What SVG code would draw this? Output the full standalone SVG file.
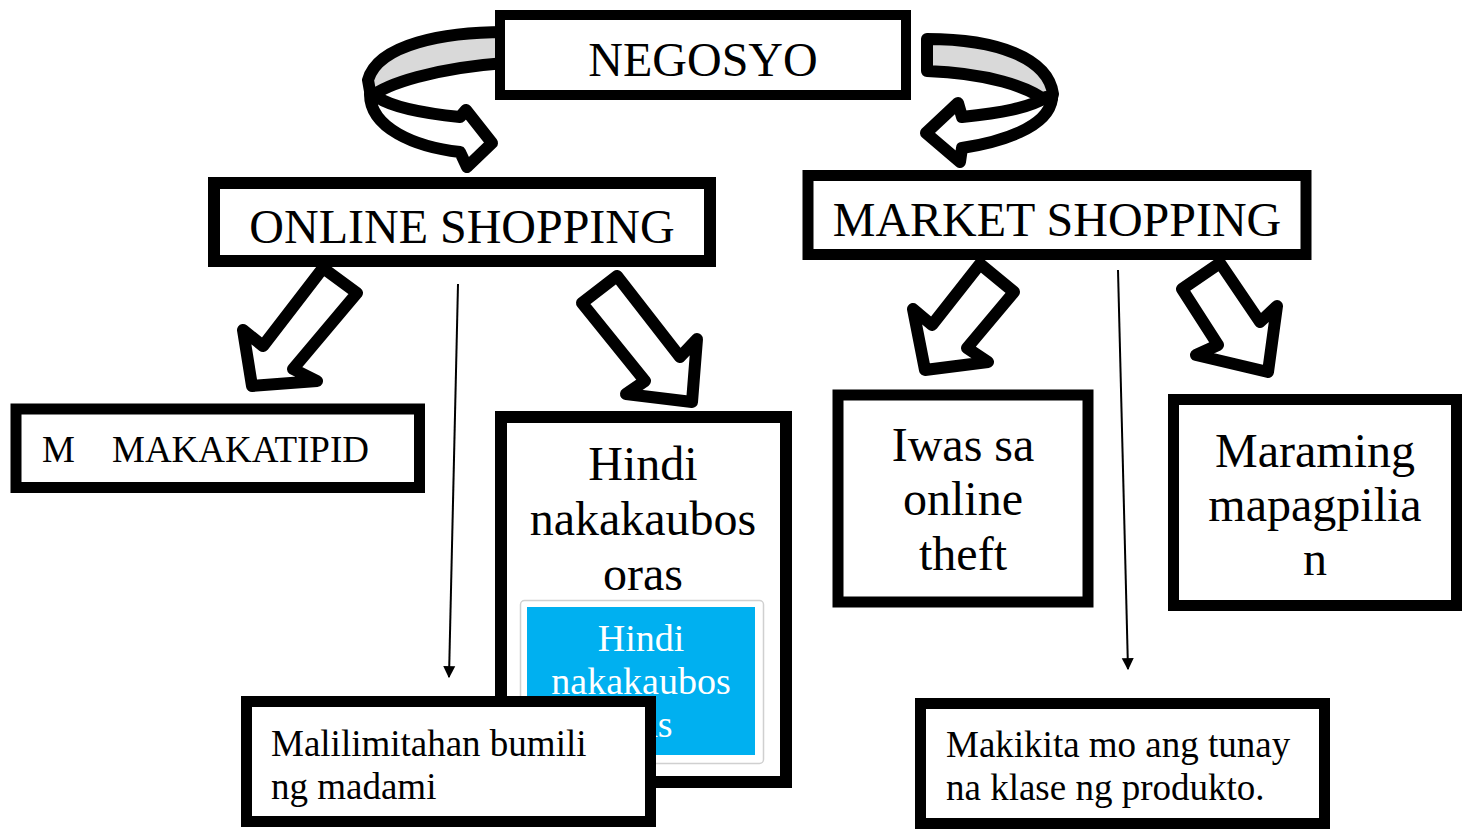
<svg xmlns="http://www.w3.org/2000/svg" width="1471" height="829" viewBox="0 0 1471 829">
<defs>
<style>
.frame{fill:#fff;stroke:#000}
.t{font-family:"Liberation Serif","Times New Roman",serif;fill:#000}
.big{font-size:48px;text-anchor:middle}
.mid{font-size:37px}
.blk{fill:#fff;stroke:#000;stroke-width:12;stroke-linejoin:round}
.grey{fill:#d9d9d9;stroke:#000;stroke-width:12;stroke-linejoin:round}
.thin{stroke:#000;stroke-width:2;fill:none}
</style>
<marker id="ah" viewBox="0 0 10 10" refX="9" refY="5" markerWidth="12" markerHeight="14" orient="auto" markerUnits="userSpaceOnUse">
<path d="M0,0 L10,5 L0,10 z" fill="#000"/>
</marker>
</defs>
<rect width="1471" height="829" fill="#fff"/>
<g id="connectors">
<path class="grey" d="M505,32 C445,32 378,44 368,80 L371,97 C386,84 435,68 505,63 Z"/>
<path class="blk" d="M370,94 C370,128 415,147 460,152 L467,167 L492,143 L466,110 L460,117 C420,113 392,107 377,97 Z"/>
<path class="grey" d="M927,39 C997,39 1048,58 1053,94 L1050,104 C1030,86 985,73 927,71 Z"/>
<path class="blk" d="M1052,99 C1048,128 1000,142 962,148 L960,162 L926,133 L958,103 L962,117 C1000,113 1030,108 1046,97 Z"/>
<path class="blk" d="M323,268 L357,293 L293,369 L317,381 L252,386 L243,330 L263,346 Z"/>
<path class="blk" d="M617,276 L680,357 L697,339 L692,402 L626,394 L645,381 L582,303 Z"/>
<path class="blk" d="M980,264 L1014,292 L967,348 L988,362 L925,370 L913,309 L932,325 Z"/>
<path class="blk" d="M1220,263 L1260,322 L1277,306 L1268,372 L1196,355 L1218,345 L1182,289 Z"/>
<line class="thin" x1="458" y1="284" x2="449" y2="677" marker-end="url(#ah)"/>
<line class="thin" x1="1118" y1="270" x2="1128" y2="669" marker-end="url(#ah)"/>
</g>
<g id="negosyo">
<rect class="frame" x="500" y="15" width="406" height="80" stroke-width="10"/>
<text class="t big" x="703" y="76">NEGOSYO</text>
</g>
<g id="online">
<rect class="frame" x="214" y="183" width="496" height="78" stroke-width="12"/>
<text class="t big" x="462" y="243">ONLINE SHOPPING</text>
</g>
<g id="market">
<rect class="frame" x="808" y="175.5" width="498" height="79" stroke-width="11"/>
<text class="t big" x="1057" y="236">MARKET SHOPPING</text>
</g>
<g id="makakatipid">
<rect class="frame" x="16" y="409" width="403.5" height="78.5" stroke-width="11"/>
<text class="t" font-size="37" y="462"><tspan x="42">M</tspan><tspan x="112">MAKAKATIPID</tspan></text>
</g>
<g id="hindi">
<rect class="frame" x="501" y="417" width="285" height="365" stroke-width="12"/>
<text class="t big" x="643"><tspan x="643" y="480">Hindi</tspan><tspan x="643" y="535">nakakaubos</tspan><tspan x="643" y="590">oras</tspan></text>
<rect x="520.5" y="600.5" width="243" height="163" rx="4" fill="#fff" stroke="#d0d0d0" stroke-width="1.5"/>
<rect x="527" y="607" width="228" height="148" fill="#00b0f0"/>
<text class="t" font-size="38" text-anchor="middle" style="fill:#fff"><tspan x="641" y="651">Hindi</tspan><tspan x="641" y="694">nakakaubos</tspan><tspan x="641" y="737">oras</tspan></text>
</g>
<g id="iwas">
<rect class="frame" x="838" y="395" width="250" height="207" stroke-width="11"/>
<text class="t big"><tspan x="963" y="461">Iwas sa</tspan><tspan x="963" y="515">online</tspan><tspan x="963" y="570">theft</tspan></text>
</g>
<g id="maraming">
<rect class="frame" x="1173.5" y="399.5" width="283" height="206" stroke-width="11"/>
<text class="t big"><tspan x="1315" y="467">Maraming</tspan><tspan x="1315" y="521">mapagpilia</tspan><tspan x="1315" y="575">n</tspan></text>
</g>
<g id="malilimitahan">
<rect class="frame" x="246.5" y="701.5" width="404" height="120" stroke-width="11"/>
<text class="t mid"><tspan x="271" y="756">Malilimitahan bumili</tspan><tspan x="271" y="799">ng madami</tspan></text>
</g>
<g id="makikita">
<rect class="frame" x="920.5" y="703.5" width="404" height="120" stroke-width="11"/>
<text class="t mid"><tspan x="946" y="757">Makikita mo ang tunay</tspan><tspan x="946" y="800">na klase ng produkto.</tspan></text>
</g>
</svg>
